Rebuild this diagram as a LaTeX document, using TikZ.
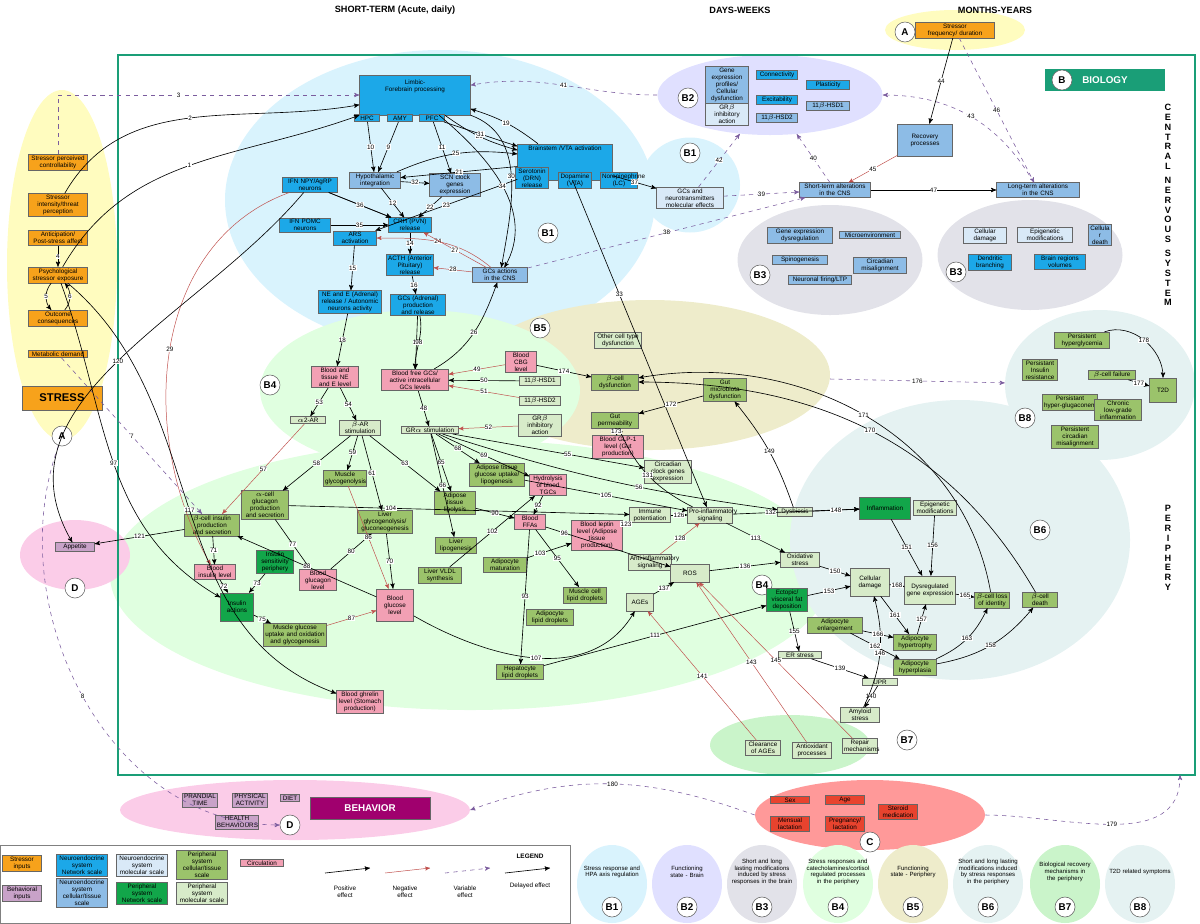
\documentclass[tikz,border=0pt]{standalone}
\usepackage{fontspec}
\setmainfont{Liberation Sans}
\setsansfont{Liberation Sans}
\usetikzlibrary{arrows,shapes.geometric,positioning}
\definecolor{stressO}{HTML}{F7A21B}
\definecolor{netB}{HTML}{1CA8E8}
\definecolor{cellB}{HTML}{8DBCE6}
\definecolor{molB}{HTML}{D9E9F7}
\definecolor{cellG}{HTML}{9BC36B}
\definecolor{netG}{HTML}{12A64A}
\definecolor{molG}{HTML}{D7EBC9}
\definecolor{circP}{HTML}{F2A0B4}
\definecolor{behP}{HTML}{C8A2C8}
\definecolor{behM}{HTML}{A0006E}
\definecolor{redC}{HTML}{E8432E}
\definecolor{frameG}{HTML}{1A9E77}
\definecolor{negR}{HTML}{C0504D}
\definecolor{varP}{HTML}{7B5C9E}
\tikzset{
  box/.style={draw=black!60,rectangle,inner sep=1pt,align=center,font=\fontsize{4.5}{5}\selectfont},
  tw/.style={text width=#1cm},
  stress node/.style={box,fill=stressO},
  net node/.style={box,fill=netB},
  cell node/.style={box,fill=cellB},
  mol node/.style={box,fill=molB},
  pcell node/.style={box,fill=cellG},
  pnet node/.style={box,fill=netG},
  pmol node/.style={box,fill=molG},
  circ node/.style={box,fill=circP},
  beh node/.style={box,fill=behP},
  area/.style 2 args={ellipse,draw=none,inner sep=0pt,minimum width=#1*0.025cm,minimum height=#2*0.025cm},
  tag/.style={circle,draw=black!60,fill=white,inner sep=1pt,minimum size=0.5cm,font=\fontsize{7}{7}\selectfont\bfseries},
  lbl/.style={font=\fontsize{4.5}{5}\selectfont,fill=white,inner sep=0.3pt},
  poseff/.style={->,>=stealth',draw=black,line width=0.45pt},
  negeff/.style={->,>=stealth',draw=negR,line width=0.35pt},
  vareff/.style={->,>=stealth',draw=varP,dashed,line width=0.4pt},
  head/.style={font=\fontsize{6.5}{7}\selectfont\bfseries}
}
\begin{document}
\hyphenpenalty=10000
\exhyphenpenalty=10000
\begin{tikzpicture}[x=0.025cm,y=-0.025cm]
\useasboundingbox (0,0) rectangle (1200,923);
% background areas
\node[area={110}{350},fill=yellow!25] (areaA) at (62,265) {};
\node[area={140}{40},fill=yellow!25] (areaA2) at (955,30) {};
\node[area={430}{300},fill=cyan!15] (areaB1) at (440,200) {};
\node[area={100}{95},fill=cyan!15] (areaB1b) at (690,185) {};
\node[area={225}{80},fill=blue!12] (areaB2) at (770,95) {};
\node[area={185}{110},fill=blue!15!gray!20] (areaB3a) at (830,260) {};
\node[area={185}{110},fill=blue!15!gray!20] (areaB3b) at (1030,255) {};
\node[area={360}{150},fill=olive!15] (areaB5) at (650,375) {};
\node[area={320}{160},fill=green!12] (areaB4a) at (420,390) {};
\node[area={720}{270},fill=green!12] (areaB4) at (470,575) {};
\node[area={340}{280},fill=teal!10] (areaB6) at (960,540) {};
\node[area={160}{60},fill=gray!35!green!25] (areaB7) at (790,745) {};
\node[area={190}{150},fill=teal!10] (areaB8) at (1100,385) {};
\node[area={110}{70},fill=magenta!20] (areaD) at (75,555) {};
\node[area={350}{60},fill=magenta!20] (areaD2) at (295,810) {};
\node[area={230}{70},fill=red!40] (areaC) at (870,815) {};
% frame
\draw[frameG,line width=2pt] (118,55) rectangle (1195,775);
\node[box,fill=frameG,draw=none,minimum width=3cm,minimum height=0.55cm,text=white,font=\fontsize{7}{7}\selectfont\bfseries] (biology) at (1105,80) {BIOLOGY};
\node[tag] (tB) at (1062,80) {B};
% headers
\node[head] (hshort) at (395,10) {SHORT-TERM (Acute, daily)};
\node[head] (hdays) at (740,10) {DAYS-WEEKS};
\node[head] (hmonths) at (995,10) {MONTHS-YEARS};
\node[head,align=center] (hcns) at (1168,205) {C\\E\\N\\T\\R\\A\\L\\[3pt]N\\E\\R\\V\\O\\U\\S\\[3pt]S\\Y\\S\\T\\E\\M};
\node[head,align=center] (hper) at (1168,548) {P\\E\\R\\I\\P\\H\\E\\R\\Y};
% A
\node[stress node,tw=1.4] (control) at (58,162) {Stressor perceived controllability};
\node[stress node,tw=1.4] (intens) at (58,205) {Stressor intensity/threat perception};
\node[stress node,tw=1.4] (antic) at (58,238) {Anticipation/ Post-stress affect};
\node[stress node,tw=1.4] (psych) at (58,275) {Psychological stressor exposure};
\node[stress node,tw=1.4] (outcome) at (58,318) {Outcome consequences};
\node[stress node,tw=1.4] (metab) at (58,354) {Metabolic demand};
\node[stress node,minimum width=2cm,minimum height=0.6cm,font=\fontsize{8}{8}\selectfont\bfseries] (stress) at (62,398) {STRESS};
\node[tag] (tA) at (62,436) {A};
\node[stress node,tw=1.9] (freq) at (955,30) {Stressor frequency/ duration};
\node[tag] (tA2) at (905,32) {A};
% B1
\node[net node,tw=2.7,minimum height=1cm] (limbic) at (415,95) {Limbic-\\Forebrain processing\\[8pt]\ };
\node[net node,tw=0.55] (hpc) at (367,118) {HPC};
\node[net node,tw=0.55] (amy) at (400,118) {AMY};
\node[net node,tw=0.55] (pfc) at (432,118) {PFC};
\node[net node,tw=2.3,minimum height=0.9cm] (brainstem) at (565,162) {Brainstem /VTA activation\\[14pt]\ };
\node[net node,tw=0.75] (sero) at (532,178) {Serotonin (DRN) release};
\node[net node,tw=0.75] (dopa) at (575,180) {Dopamine (VTA)};
\node[net node,tw=0.85] (nore) at (619,180) {Norepinephrine (LC)};
\node[net node,tw=1.3] (npy) at (310,185) {IFN NPY/AgRP neurons};
\node[cell node,tw=1.2] (hypo) at (375,180) {Hypothalamic integration};
\node[cell node,tw=1.2] (scn) at (455,185) {SCN clock genes expression};
\node[net node,tw=1.2] (pomc) at (305,225) {IFN POMC neurons};
\node[net node,tw=1.0] (crh) at (410,225) {CRH (PVN) release};
\node[net node,tw=1.0] (ars) at (355,238) {ARS activation};
\node[net node,tw=1.1] (acth) at (410,265) {ACTH (Anterior Pituitary) release};
\node[cell node,tw=1.3] (gccns) at (500,275) {GCs actions in the CNS};
\node[net node,tw=1.5] (nee) at (350,302) {NE and E (Adrenal) release / Autonomic neurons activity};
\node[net node,tw=1.3] (gcs) at (418,305) {GCs (Adrenal) production and release};
\node[tag] (tB1) at (548,233) {B1};
\node[mol node,tw=1.6] (gcneuro) at (690,198) {GCs and neurotransmitters molecular effects};
\node[tag] (tB1b) at (690,153) {B1};
% B2
\node[cell node,tw=1.0] (geneprof) at (727,85) {Gene expression profiles/ Cellular dysfunction};
\node[mol node,tw=1.0] (grbcns) at (727,114) {GR$\beta$ inhibitory action};
\node[net node,tw=0.95] (connect) at (777,75) {Connectivity};
\node[net node,tw=0.95] (excit) at (777,100) {Excitability};
\node[cell node,tw=0.95] (hsd2c) at (777,118) {11$\beta$-HSD2};
\node[net node,tw=1.0] (plast) at (828,85) {Plasticity};
\node[cell node,tw=1.0] (hsd1c) at (828,106) {11$\beta$-HSD1};
\node[tag] (tB2) at (688,98) {B2};
\node[cell node,tw=1.3,minimum height=0.8cm] (recov) at (925,140) {Recovery processes};
\node[cell node,tw=1.7] (shortcns) at (835,190) {Short-term alterations in the CNS};
\node[cell node,tw=2.0] (longcns) at (1038,190) {Long-term alterations in the CNS};
% B3
\node[cell node,tw=1.55] (genedys) at (800,235) {Gene expression dysregulation};
\node[cell node,tw=1.45] (micro) at (870,235) {Microenvironment};
\node[cell node,tw=1.3] (spino) at (800,260) {Spinogenesis};
\node[cell node,tw=1.25] (circmis) at (880,265) {Circadian misalignment};
\node[cell node,tw=1.5] (firing) at (820,280) {Neuronal firing/LTP};
\node[tag] (tB3a) at (760,275) {B3};
\node[mol node,tw=1.0] (celldam) at (985,235) {Cellular damage};
\node[mol node,tw=1.3] (epicns) at (1045,235) {Epigenetic modifications};
\node[cell node,tw=0.5] (celldeath) at (1100,235) {Cellula r death};
\node[net node,tw=1.0] (dendr) at (990,262) {Dendritic branching};
\node[net node,tw=1.2] (volumes) at (1060,262) {Brain regions volumes};
\node[tag] (tB3b) at (956,272) {B3};
% B5
\node[pmol node,tw=1.1] (othercell) at (618,340) {Other cell type dysfunction};
\node[pcell node,tw=1.1] (betadys) at (615,382) {$\beta$-cell dysfunction};
\node[pcell node,tw=1.1] (gutperm) at (615,420) {Gut permeability};
\node[pcell node,tw=1.0] (gutmic) at (725,390) {Gut microbiota dysfunction};
\node[circ node,tw=1.2] (glp) at (618,447) {Blood GLP-1 level (Gut production)};
\node[circ node,tw=0.7] (cbg) at (521,362) {Blood CBG level};
\node[tag] (tB5) at (540,328) {B5};
% B4 upper
\node[circ node,tw=1.1] (bloodne) at (335,377) {Blood and tissue NE and E level};
\node[circ node,tw=1.6] (bloodgc) at (415,380) {Blood free GCs/ active intracellular GCs levels};
\node[pmol node,tw=0.95] (hsd1) at (540,381) {11$\beta$-HSD1};
\node[pmol node,tw=0.95] (hsd2) at (540,401) {11$\beta$-HSD2};
\node[pmol node,tw=1.0] (grb) at (540,425) {GR$\beta$ inhibitory action};
\node[pmol node,tw=0.8] (a2ar) at (308,420) {$\alpha$2-AR};
\node[pmol node,tw=0.95] (bar) at (360,428) {$\beta$-AR stimulation};
\node[pmol node,tw=1.35] (gra) at (430,430) {GR$\alpha$ stimulation};
\node[tag] (tB4a) at (270,385) {B4};
\node[pmol node,tw=1.1] (circadian) at (668,472) {Circadian clock genes expression};
% B4 lower
\node[pcell node,tw=1.0] (muscgly) at (345,478) {Muscle glycogenolysis};
\node[pcell node,tw=1.1] (alpha) at (265,505) {$\alpha$-cell glucagon production and secretion};
\node[pcell node,tw=1.3] (livgly) at (385,522) {Liver glycogenolysis/ gluconeogenesis};
\node[pcell node,tw=0.95] (adilip) at (455,503) {Adipose tissue lipolysis};
\node[pcell node,tw=1.3] (adiup) at (497,475) {Adipose tissue glucose uptake/ lipogenesis};
\node[pcell node,tw=0.95] (livlip) at (456,545) {Liver lipogenesis};
\node[pcell node,tw=1.0] (vldl) at (440,575) {Liver VLDL synthesis};
\node[pcell node,tw=1.0] (adimat) at (505,565) {Adipocyte maturation};
\node[circ node,tw=0.85] (tgc) at (548,485) {Hydrolysis of blood TGCs};
\node[circ node,tw=0.7] (ffa) at (530,522) {Blood FFAs};
\node[circ node,tw=1.2] (leptin) at (597,535) {Blood leptin level (Adipose tissue production)};
\node[pmol node,tw=0.95] (immune) at (650,515) {Immune potentiation};
\node[pmol node,tw=1.05] (proinf) at (710,515) {Pro-inflammatory signaling};
\node[pmol node,tw=1.0] (antiinf) at (650,562) {Anti-inflammatory signaling};
\node[pmol node,tw=0.9,minimum height=0.45cm] (ros) at (690,573) {ROS};
\node[pmol node,tw=0.6,minimum height=0.45cm] (ages) at (640,602) {AGEs};
\node[pcell node,tw=1.0] (muslip) at (585,595) {Muscle cell lipid droplets};
\node[pcell node,tw=1.1] (adlipd) at (550,617) {Adipocyte lipid droplets};
\node[pcell node,tw=1.1] (heplip) at (520,672) {Hepatocyte lipid droplets};
\node[pcell node,tw=1.3] (betains) at (212,525) {$\beta$-cell insulin production and secretion};
\node[circ node,tw=0.95] (bloodins) at (215,572) {Blood insulin level};
\node[pnet node,tw=0.85] (inssens) at (275,562) {Insulin sensitivity periphery};
\node[circ node,tw=0.85] (bloodglu) at (318,580) {Blood glucagon level};
\node[circ node,tw=0.85,minimum height=0.8cm] (bloodgl) at (395,605) {Blood glucose level};
\node[pnet node,tw=0.75,minimum height=0.7cm] (insact) at (237,607) {Insulin actions};
\node[pcell node,tw=1.5] (muscup) at (295,635) {Muscle glucose uptake and oxidation and glycogenesis};
\node[circ node,tw=1.1] (ghrelin) at (360,702) {Blood ghrelin level (Stomach production)};
\node[beh node,tw=0.9] (appetite) at (75,547) {Appetite};
\node[tag] (tD) at (75,588) {D};
\node[tag] (tB4) at (762,585) {B4};
% B6
\node[pmol node,tw=0.8] (dysb) at (795,512) {Dysbiosis};
\node[pnet node,tw=1.2,minimum height=0.55cm] (inflam) at (885,508) {Inflammation};
\node[pmol node,tw=1.0] (epiper) at (935,508) {Epigenetic modifications};
\node[pmol node,tw=0.9] (oxstr) at (800,560) {Oxidative stress};
\node[pmol node,tw=0.9,minimum height=0.7cm] (celldamp) at (870,582) {Cellular damage};
\node[pmol node,tw=1.2,minimum height=0.7cm] (dysgene) at (930,590) {Dysregulated gene expression};
\node[pcell node,tw=0.8] (betaloss) at (992,600) {$\beta$-cell loss of identity};
\node[pcell node,tw=0.8] (betadeath) at (1040,600) {$\beta$-cell death};
\node[pnet node,tw=0.95] (ectopic) at (787,600) {Ectopic/ visceral fat deposition};
\node[pcell node,tw=1.3] (adienl) at (835,625) {Adipocyte enlargement};
\node[pcell node,tw=1.0] (adihyp) at (915,642) {Adipocyte hypertrophy};
\node[pcell node,tw=1.0] (adipla) at (915,667) {Adipocyte hyperplasia};
\node[pmol node,tw=1.0] (erstr) at (800,655) {ER stress};
\node[pmol node,tw=0.8] (upr) at (880,682) {UPR};
\node[pmol node,tw=0.9] (amyl) at (860,715) {Amyloid stress};
\node[tag] (tB6) at (1040,530) {B6};
% B7
\node[pmol node,tw=0.8] (clear) at (763,748) {Clearance of AGEs};
\node[pmol node,tw=0.9] (antiox) at (812,750) {Antioxidant processes};
\node[pmol node,tw=0.8] (repair) at (860,746) {Repair mechanisms};
\node[tag] (tB7) at (907,740) {B7};
% B8
\node[pcell node,tw=1.3] (hyperg) at (1082,340) {Persistent hyperglycemia};
\node[pcell node,tw=0.8] (persins) at (1040,370) {Persistant Insulin resistance};
\node[pcell node,tw=1.1] (betafail) at (1112,375) {$\beta$-cell failure};
\node[pcell node,tw=1.3] (hyperglu) at (1070,402) {Persistant hyper-glugaconemia};
\node[pcell node,tw=1.1] (chronic) at (1118,410) {Chronic low-grade inflammation};
\node[pcell node,tw=1.1] (perscirc) at (1075,437) {Persistent circadian misalignment};
\node[pcell node,tw=0.6,minimum height=0.6cm] (t2d) at (1163,390) {T2D};
\node[tag] (tB8) at (1025,418) {B8};
% D behavior
\node[beh node,tw=0.8] (prand) at (200,800) {PRANDIAL TIME};
\node[beh node,tw=0.8] (physact) at (250,800) {PHYSICAL ACTIVITY};
\node[beh node,tw=0.4] (diet) at (290,798) {DIET};
\node[beh node,tw=1.0] (health) at (237,822) {HEALTH BEHAVIOURS};
\node[box,fill=behM,text=white,minimum width=3cm,minimum height=0.55cm,font=\fontsize{7}{7}\selectfont\bfseries] (behavior) at (370,808) {BEHAVIOR};
\node[tag] (tD2) at (290,825) {D};
% C
\node[box,fill=redC,tw=0.9] (sex) at (790,800) {Sex};
\node[box,fill=redC,tw=0.9] (age) at (845,800) {Age};
\node[box,fill=redC,tw=0.9] (steroid) at (898,812) {Steroid medication};
\node[box,fill=redC,tw=0.9] (mens) at (790,824) {Mensual lactation};
\node[box,fill=redC,tw=0.9] (preg) at (845,824) {Pregnancy/ lactation};
\node[tag] (tC) at (870,842) {C};
% connectors
\draw[poseff] (psych) to[out=60,in=200] node[lbl]{1} (limbic);
\draw[poseff] (intens) to[out=60,in=190] node[lbl]{2} (limbic);
\draw[vareff] (control.north) |- node[lbl,pos=0.7]{3} (limbic.west);
\draw[poseff] (antic) -- node[lbl]{4} (psych);
\draw[poseff] (psych) to[bend right=40] node[lbl]{5} (outcome);
\draw[poseff] (outcome) to[bend right=40] node[lbl]{6} (psych);
\draw[vareff] (metab) -- node[lbl]{7} (betains);
\draw[vareff] (tA) to[out=250,in=180] node[lbl]{8} (tD2);
\draw[poseff] (amy) -- node[lbl]{9} (hypo);
\draw[poseff] (hpc) -- node[lbl]{10} (hypo);
\draw[poseff] (pfc) -- node[lbl]{11} (scn);
\draw[poseff] (hypo) -- node[lbl]{12} (crh);
\draw[poseff] (npy) -- node[lbl]{13} (crh);
\draw[poseff] (crh) -- node[lbl]{14} (acth);
\draw[poseff] (ars) -- node[lbl]{15} (nee);
\draw[poseff] (acth) -- node[lbl]{16} (gcs);
\draw[poseff] (gcs) -- node[lbl]{17} (bloodgc);
\draw[poseff] (nee) -- node[lbl]{18} (bloodne);
\draw[poseff] (brainstem) to[bend right=10] node[lbl]{19} (limbic);
\draw[poseff] (limbic) to[bend right=10] node[lbl]{20} (brainstem);
\draw[poseff] (brainstem) -- node[lbl]{21} (hypo);
\draw[poseff] (scn) -- node[lbl]{22} (crh);
\draw[poseff] (brainstem) to[out=200,in=20] node[lbl]{23} (ars);
\draw[negeff] (gccns) to[out=140,in=0] node[lbl]{24} (ars);
\draw[poseff] (hypo) to[bend left=15] node[lbl]{25} (brainstem);
\draw[poseff] (bloodgc) to[out=30,in=250] node[lbl]{26} (gccns);
\draw[negeff] (gccns) -- node[lbl]{27} (crh);
\draw[negeff] (gccns) -- node[lbl]{28} (acth);
\draw[negeff] (npy) to[out=200,in=120] node[lbl]{29} (bloodins);
\draw[poseff] (limbic) to[out=-20,in=80] node[lbl]{30} (gccns);
\draw[poseff] (pfc) -- node[lbl]{31} (brainstem);
\draw[poseff] (hypo) -- node[lbl]{32} (scn);
\draw[poseff] (brainstem) -- node[lbl,pos=0.35]{33} (proinf);
\draw[poseff] (limbic) to[out=-40,in=60] node[lbl]{34} (gccns);
\draw[poseff] (pomc) -- node[lbl]{35} (crh);
\draw[poseff] (npy) -- node[lbl]{36} (crh);
\draw[poseff] (brainstem) -- node[lbl]{37} (gcneuro);
\draw[vareff] (gccns) -- node[lbl]{38} (shortcns);
\draw[vareff] (gcneuro) -- node[lbl]{39} (shortcns);
\draw[vareff] (shortcns) -- node[lbl]{40} (areaB2);
\draw[vareff] (areaB2) to[out=180,in=10] node[lbl]{41} (limbic);
\draw[vareff] (gcneuro) -- node[lbl]{42} (areaB2);
\draw[vareff] (longcns) to[out=120,in=0] node[lbl]{43} (areaB2);
\draw[poseff] (freq) -- node[lbl]{44} (recov);
\draw[negeff] (recov) -- node[lbl]{45} (shortcns);
\draw[vareff] (freq) -- node[lbl]{46} (longcns);
\draw[poseff] (shortcns) -- node[lbl]{47} (longcns);
\draw[poseff] (bloodgc) -- node[lbl]{48} (gra);
\draw[negeff] (cbg) -- node[lbl]{49} (bloodgc);
\draw[poseff] (hsd1) -- node[lbl]{50} (bloodgc);
\draw[negeff] (hsd2) -- node[lbl]{51} (bloodgc);
\draw[negeff] (grb) -- node[lbl]{52} (gra);
\draw[poseff] (bloodne) -- node[lbl]{53} (a2ar);
\draw[poseff] (bloodne) -- node[lbl]{54} (bar);
\draw[poseff] (gra) -- node[lbl,pos=0.6]{55} (circadian);
\draw[poseff] (gra) to[bend right=5] node[lbl,pos=0.6]{56} (dysb);
\draw[negeff] (a2ar) -- node[lbl]{57} (betains);
\draw[poseff] (bar) -- node[lbl]{58} (alpha);
\draw[poseff] (bar) -- node[lbl]{59} (muscgly);
\draw[poseff] (bar) -- node[lbl]{61} (livgly);
\draw[poseff] (bar) -- node[lbl]{63} (adilip);
\draw[poseff] (gra) -- node[lbl]{65} (adilip);
\draw[poseff] (gra) -- node[lbl]{66} (livlip);
\draw[poseff] (gra) -- node[lbl]{68} (adiup);
\draw[poseff] (gra) -- node[lbl]{69} (tgc);
\draw[poseff] (livgly) -- node[lbl]{70} (bloodgl);
\draw[poseff] (betains) -- node[lbl]{71} (bloodins);
\draw[poseff] (bloodins) -- node[lbl]{72} (insact);
\draw[poseff] (inssens) -- node[lbl]{73} (insact);
\draw[poseff] (insact) -- node[lbl]{75} (muscup);
\draw[poseff] (alpha) -- node[lbl]{77} (bloodglu);
\draw[poseff] (bloodglu) -- node[lbl]{80} (livgly);
\draw[negeff] (muscgly) -- node[lbl]{86} (bloodgl);
\draw[negeff] (muscup) -- node[lbl]{87} (bloodgl);
\draw[poseff] (bloodgl) -- node[lbl]{88} (betains);
\draw[poseff] (adilip) -- node[lbl]{90} (ffa);
\draw[poseff] (tgc) -- node[lbl]{92} (ffa);
\draw[poseff] (ffa) -- node[lbl]{93} (heplip);
\draw[poseff] (ffa) -- node[lbl]{95} (muslip);
\draw[poseff] (ffa) -- node[lbl,pos=0.15]{96} (ros);
\draw[poseff] (psych) to[out=-70,in=150] node[lbl]{97} (insact);
\draw[poseff] (gcs) to[out=-80,in=90] node[lbl]{98} (bloodgc);
\draw[poseff] (vldl) -- node[lbl]{102} (tgc);
\draw[poseff] (adimat) -- node[lbl,pos=0.3]{103} (leptin);
\draw[poseff] (alpha) -- node[lbl,pos=0.3]{104} (immune);
\draw[poseff] (adiup) -- node[lbl]{105} (proinf);
\draw[poseff] (bloodgl) to[out=-30,in=240] node[lbl]{107} (ages);
\draw[poseff] (heplip) -- node[lbl]{111} (ectopic);
\draw[poseff] (proinf) -- node[lbl]{113} (oxstr);
\draw[poseff] (psych) to[out=-40,in=160] node[lbl]{117} (ghrelin);
\draw[poseff] (npy) to[out=230,in=120] node[lbl]{120} (appetite);
\draw[poseff] (betains) -- node[lbl]{121} (appetite);
\draw[poseff] (leptin) -- node[lbl]{123} (immune);
\draw[poseff] (immune) -- node[lbl]{126} (proinf);
\draw[negeff] (antiinf) -- node[lbl]{128} (proinf);
\draw[poseff] (proinf) to[bend left=20] node[lbl]{131} (gutperm);
\draw[poseff] (proinf) -- node[lbl,pos=0.3]{132} (inflam);
\draw[poseff] (ros) -- node[lbl]{136} (oxstr);
\draw[poseff] (ages) -- node[lbl]{137} (ros);
\draw[poseff] (erstr) -- node[lbl]{139} (upr);
\draw[poseff] (upr) -- node[lbl]{140} (amyl);
\draw[negeff] (clear) -- node[lbl]{141} (ages);
\draw[negeff] (antiox) -- node[lbl]{143} (ros);
\draw[negeff] (repair) -- node[lbl]{145} (ros);
\draw[poseff] (amyl) to[bend right=20] node[lbl]{146} (celldamp);
\draw[poseff] (dysb) -- node[lbl]{148} (inflam);
\draw[poseff] (dysb) to[bend right=10] node[lbl]{149} (gutmic);
\draw[poseff] (oxstr) -- node[lbl]{150} (celldamp);
\draw[poseff] (inflam) -- node[lbl]{151} (dysgene);
\draw[poseff] (ectopic) -- node[lbl]{153} (celldamp);
\draw[poseff] (ectopic) -- node[lbl]{155} (erstr);
\draw[poseff] (epiper) -- node[lbl]{156} (dysgene);
\draw[poseff] (adihyp) -- node[lbl]{157} (dysgene);
\draw[poseff] (adipla) to[bend right=20] node[lbl]{158} (betadeath);
\draw[poseff] (celldamp) -- node[lbl]{161} (adihyp);
\draw[poseff] (adienl) -- node[lbl]{162} (adipla);
\draw[poseff] (adipla) to[bend right=20] node[lbl]{163} (betaloss);
\draw[poseff] (dysgene) -- node[lbl]{165} (betaloss);
\draw[poseff] (adienl) -- node[lbl]{166} (adihyp);
\draw[poseff] (celldamp) -- node[lbl]{168} (dysgene);
\draw[poseff] (betadeath) to[out=120,in=0] node[lbl]{170} (betadys);
\draw[poseff] (betaloss) to[out=100,in=10] node[lbl]{171} (betadys);
\draw[poseff] (gutmic) -- node[lbl]{172} (gutperm);
\draw[poseff] (gutperm) -- node[lbl]{173} (glp);
\draw[poseff] (cbg) -- node[lbl]{174} (betadys);
\draw[vareff] (areaB5) -- node[lbl]{176} (areaB8);
\draw[poseff] (betafail) -- node[lbl]{177} (t2d);
\draw[poseff] (hyperg) to[out=20,in=90] node[lbl]{178} (t2d);
\draw[vareff] (areaC.east) to[out=0,in=270] node[lbl]{179} (1180,775);
\draw[vareff] (areaC.west) to[out=160,in=20] node[lbl]{180} (areaD2.east);
% legend
\draw[black!50] (0,845) rectangle (570,923);
\node[font=\fontsize{4.6}{5}\selectfont\bfseries] (legtitle) at (530,856) {LEGEND};
\node[stress node,tw=0.9] (lg1) at (22,863) {Stressor inputs};
\node[net node,tw=1.2] (lg2) at (82,865) {Neuroendocrine system Network scale};
\node[mol node,tw=1.2] (lg3) at (142,865) {Neuroendocrine system molecular scale};
\node[pcell node,tw=1.2] (lg4) at (202,865) {Peripheral system cellular/tissue scale};
\node[circ node,tw=1.0] (lg5) at (262,863) {Circulation};
\node[beh node,tw=0.9] (lg6) at (22,893) {Behavioral inputs};
\node[cell node,tw=1.2] (lg7) at (82,893) {Neuroendocrine system cellular/tissue scale};
\node[pnet node,tw=1.2] (lg8) at (142,893) {Peripheral system Network scale};
\node[pmol node,tw=1.2] (lg9) at (202,893) {Peripheral system molecular scale};
\coordinate (la1) at (325,873); \coordinate (lb1) at (370,868);
\coordinate (la2) at (385,873); \coordinate (lb2) at (430,868);
\coordinate (la3) at (445,873); \coordinate (lb3) at (490,868);
\coordinate (la4) at (505,873); \coordinate (lb4) at (550,868);
\draw[poseff] (la1) -- (lb1); \draw[negeff] (la2) -- (lb2); \draw[vareff] (la3) -- (lb3); \draw[poseff] (la4) -- (lb4);
\node[lbl,align=center] (lt1) at (345,892) {Positive\\effect};
\node[lbl,align=center] (lt2) at (405,892) {Negative\\effect};
\node[lbl,align=center] (lt3) at (465,892) {Variable\\effect};
\node[lbl,align=center] (lt4) at (530,886) {Delayed effect};
\foreach \n/\x/\c/\t in {1/612/cyan!15/{Stress response and HPA axis regulation},
  2/687/blue!12/{Functioning state - Brain},
  3/762/blue!15!gray!20/{Short and long lasting modifications induced by stress responses in the brain},
  4/838/green!12/{Stress responses and catecholamines/cortisol regulated processes in the periphery},
  5/913/olive!15/{Functioning state - Periphery},
  6/988/teal!10/{Short and long lasting modifications induced by stress responses in the periphery},
  7/1065/gray!35!green!25/{Biological recovery mechanisms in the periphery},
  8/1140/teal!10/{T2D related symptoms}}{
  \node[area={70}{78},fill=\c] (leg\n) at (\x,884) {};
  \node[font=\fontsize{4.3}{4.8}\selectfont,text width=1.6cm,align=center] (legt\n) at (\x,872) {\t};
  \node[tag] (legb\n) at (\x,907) {B\n};
}
\end{tikzpicture}
\end{document}
